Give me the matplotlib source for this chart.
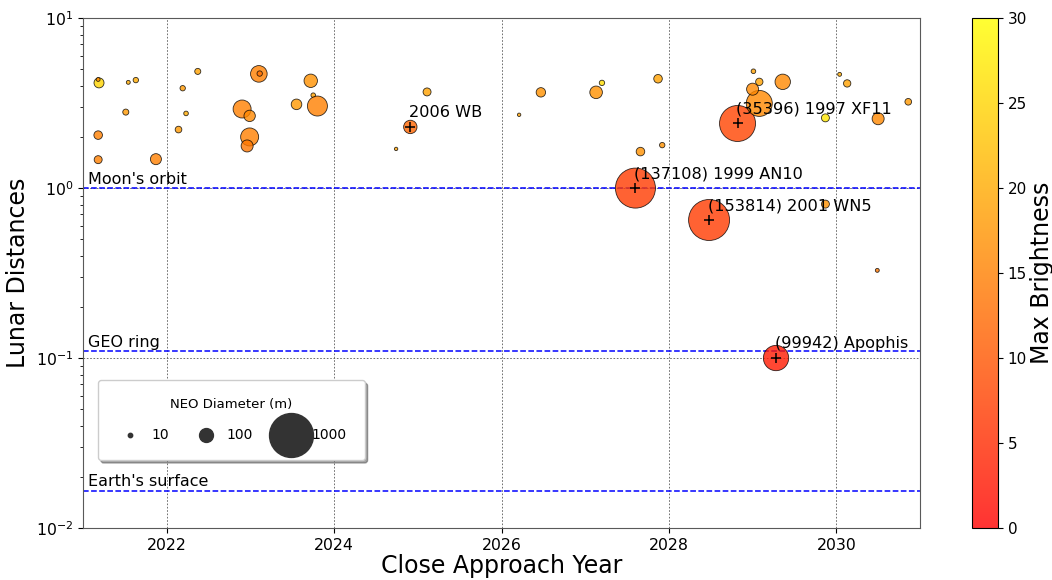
import numpy as np
import matplotlib
matplotlib.use('Agg')
from matplotlib import pyplot as plt

# close approach data (year, lunar distance, diameter in m, brightness)
years = [2021.19, 2021.18, 2021.54, 2021.63, 2021.51, 2021.18, 2021.18, 2021.87,
         2022.37, 2022.19, 2022.23, 2022.14, 2023.10, 2023.11, 2022.90, 2022.99,
         2022.99, 2022.96, 2023.55, 2023.72, 2023.75, 2023.80, 2024.74, 2024.91,
         2025.11, 2026.21, 2026.47, 2027.13, 2027.20, 2027.87, 2027.66, 2027.92,
         2027.60, 2028.48, 2028.82, 2029.08, 2029.00, 2029.08, 2029.01, 2029.36,
         2029.87, 2030.04, 2030.13, 2030.50, 2030.86, 2029.87, 2030.49, 2029.28]
dist_ld = [4.16, 4.36, 4.19, 4.32, 2.80, 2.05, 1.47, 1.48,
           4.86, 3.87, 2.75, 2.21, 4.70, 4.72, 2.92, 2.66,
           2.00, 1.77, 3.11, 4.28, 3.52, 3.04, 1.70, 2.29,
           3.68, 2.70, 3.66, 3.66, 4.16, 4.40, 1.64, 1.79,
           1.00, 0.649, 2.40, 3.15, 3.82, 4.22, 4.87, 4.22,
           2.59, 4.67, 4.13, 2.56, 3.22, 0.805, 0.328, 0.100]
diam_m = [52, 8, 8, 15, 19, 38, 33, 63,
          19, 15, 11, 23, 143, 15, 168, 67,
          168, 75, 58, 93, 11, 207, 6, 93,
          33, 6, 46, 82, 15, 38, 38, 15,
          830, 871, 672, 350, 75, 28, 11, 123,
          33, 8, 28, 75, 23, 33, 8, 332]
bright = [25, 16, 20, 20, 18, 15, 15, 15,
          19, 18, 20, 18, 15, 13, 15, 16,
          15, 14, 18, 17, 19, 15, 19, 12,
          19, 19, 17, 17, 26, 19, 17, 17,
          7, 7, 8, 16, 16, 19, 19, 16,
          27, 20, 19, 16, 18, 17, 14, 3]

# named objects
names = ['2006 WB', '(137108) 1999 AN10', '(153814) 2001 WN5', '(35396) 1997 XF11', '(99942) Apophis']
name_years = [2024.91, 2027.60, 2028.48, 2028.82, 2029.28]
name_dist = [2.29, 1.00, 0.649, 2.40, 0.100]

# reference distances in lunar distances
ref_labels = ["Moon's orbit", 'GEO ring', "Earth's surface"]
ref_dist = [1.0, 42164 / 384400, 6371 / 384400]

legend_sizes = [10, 100, 1000]

fig = plt.figure(figsize=(10.52, 5.8), dpi=100)
ax = fig.add_axes([0.079, 0.0897, 0.7955, 0.879])
cax = fig.add_axes([0.924, 0.0897, 0.0247, 0.879])

sc = ax.scatter(years, dist_ld, s=diam_m, c=bright, cmap='autumn', vmin=0, vmax=30,
                alpha=0.8, edgecolors='k', linewidths=0.6, zorder=3)
ax.scatter(name_years, name_dist, marker='+', c='k', s=50, linewidths=1.1, zorder=4)
for n, x, y in zip(names, name_years, name_dist):
    ax.annotate(n, (x, y), xytext=(-1, 5), textcoords='offset points',
                ha='left', va='bottom', fontsize=11.6, zorder=5)

for lab, d in zip(ref_labels, ref_dist):
    ax.axhline(d, color='b', linestyle='--', linewidth=1.1, zorder=2)
    ax.text(2021.06, d * 1.02, lab, ha='left', va='bottom', fontsize=11.5)

ax.set_yscale('log')
ax.set_ylim(1e-2, 1e1)
ax.set_xlim(2021, 2031)
ax.set_xticks([2022, 2024, 2026, 2028, 2030])
ax.tick_params(labelsize=11.3)
ax.grid(True, which='major', linestyle=(0, (2, 2)), color='0.35', linewidth=0.6)
ax.set_axisbelow(True)
for sp in ax.spines.values():
    sp.set_color('0.35')
ax.set_xlabel('Close Approach Year', fontsize=17, labelpad=1)
ax.set_ylabel('Lunar Distances', fontsize=17)

# size legend
handles = [ax.scatter([], [], s=v, color='0.2') for v in legend_sizes]
leg = ax.legend(handles, [str(v) for v in legend_sizes], title='NEO Diameter (m)',
                ncol=3, loc='lower left', bbox_to_anchor=(0.018, 0.133), borderaxespad=0,
                frameon=True, shadow=True, fancybox=True, fontsize=10, title_fontsize=9.5,
                borderpad=1.3, labelspacing=1.2, columnspacing=1.7, handletextpad=0.5,
                scatterpoints=1)
leg.get_frame().set_edgecolor('0.8')

cb = fig.colorbar(sc, cax=cax)
cb.set_ticks([0, 5, 10, 15, 20, 25, 30])
cb.ax.tick_params(labelsize=11)
cb.set_label('Max Brightness', fontsize=17, labelpad=2)

plt.savefig('out.png', dpi=100)
